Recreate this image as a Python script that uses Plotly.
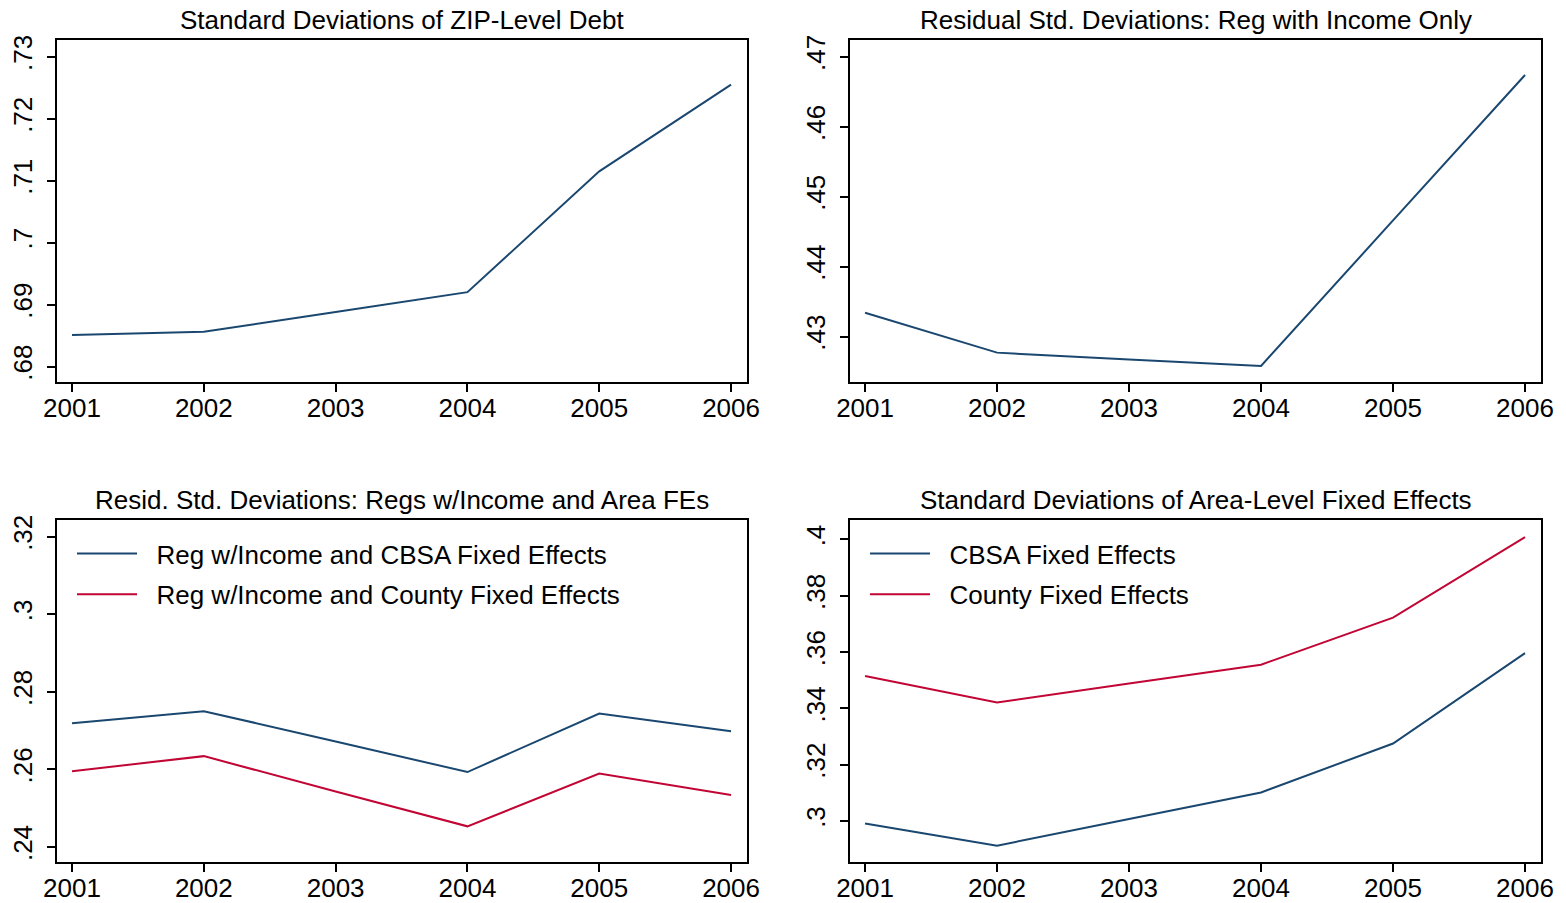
import plotly.graph_objects as go

# Years on the horizontal axis of every panel
years = [2001, 2002, 2003, 2004, 2005, 2006]

# Panel 1: standard deviation of ZIP-level debt
sd_zip_debt = [0.6851, 0.6856, 0.6888, 0.6920, 0.7115, 0.7255]

# Panel 2: residual std. deviation, regression with income only
resid_income_only = [0.4334, 0.4277, 0.4267, 0.4258, 0.4466, 0.4674]

# Panel 3: residual std. deviations with area fixed effects
resid_cbsa_fe = [0.2719, 0.2750, 0.2672, 0.2593, 0.2744, 0.2698]
resid_county_fe = [0.2595, 0.2634, 0.2543, 0.2453, 0.2589, 0.2534]

# Panel 4: std. deviations of the area-level fixed effects
sd_cbsa_fe = [0.2991, 0.2912, 0.3007, 0.3101, 0.3275, 0.3596]
sd_county_fe = [0.3515, 0.3421, 0.3488, 0.3555, 0.3722, 0.4008]

titles = [
    "Standard Deviations of ZIP-Level Debt",
    "Residual Std. Deviations: Reg with Income Only",
    "Resid. Std. Deviations: Regs w/Income and Area FEs",
    "Standard Deviations of Area-Level Fixed Effects",
]

y1_ticks = [0.68, 0.69, 0.70, 0.71, 0.72, 0.73]
y1_labels = [".68", ".69", ".7", ".71", ".72", ".73"]
y2_ticks = [0.43, 0.44, 0.45, 0.46, 0.47]
y2_labels = [".43", ".44", ".45", ".46", ".47"]
y3_ticks = [0.24, 0.26, 0.28, 0.30, 0.32]
y3_labels = [".24", ".26", ".28", ".3", ".32"]
y4_ticks = [0.30, 0.32, 0.34, 0.36, 0.38, 0.40]
y4_labels = [".3", ".32", ".34", ".36", ".38", ".4"]

NAVY = "#1a476f"
CRANBERRY = "#c10534"
FONT = "Liberation Sans, Arial, sans-serif"
FS = 26
GAP = "\u00a0\u00a0"  # extra space between legend key and its text

W, H = 1566, 903

# plot boxes in pixels: (left, right, top, bottom)
boxes = [(57, 747, 40, 382), (850, 1541, 40, 382),
         (57, 747, 520, 862), (850, 1541, 520, 862)]


def xdom(b):
    return [b[0] / W, b[1] / W]


def ydom(b):
    return [1 - b[3] / H, 1 - b[2] / H]


fig = go.Figure()

fig.add_trace(go.Scatter(x=years, y=sd_zip_debt, mode="lines",
                         line=dict(color=NAVY, width=2),
                         xaxis="x", yaxis="y", showlegend=False))
fig.add_trace(go.Scatter(x=years, y=resid_income_only, mode="lines",
                         line=dict(color=NAVY, width=2),
                         xaxis="x2", yaxis="y2", showlegend=False))
fig.add_trace(go.Scatter(x=years, y=resid_cbsa_fe, mode="lines",
                         name=GAP + "Reg w/Income and CBSA Fixed Effects",
                         line=dict(color=NAVY, width=2), legendgroup="a",
                         xaxis="x3", yaxis="y3", legend="legend"))
fig.add_trace(go.Scatter(x=years, y=resid_county_fe, mode="lines",
                         name=GAP + "Reg w/Income and County Fixed Effects",
                         line=dict(color=CRANBERRY, width=2), legendgroup="b",
                         xaxis="x3", yaxis="y3", legend="legend"))
fig.add_trace(go.Scatter(x=years, y=sd_cbsa_fe, mode="lines",
                         name=GAP + "CBSA Fixed Effects",
                         line=dict(color=NAVY, width=2), legendgroup="c",
                         xaxis="x4", yaxis="y4", legend="legend2"))
fig.add_trace(go.Scatter(x=years, y=sd_county_fe, mode="lines",
                         name=GAP + "County Fixed Effects",
                         line=dict(color=CRANBERRY, width=2), legendgroup="d",
                         xaxis="x4", yaxis="y4", legend="legend2"))

yranges = [[0.6775, 0.7327], [0.4235, 0.4724], [0.2361, 0.3243], [0.2854, 0.4069]]
yticks = [(y1_ticks, y1_labels), (y2_ticks, y2_labels),
          (y3_ticks, y3_labels), (y4_ticks, y4_labels)]

axis_common = dict(showline=True, linecolor="black", linewidth=1.5, mirror=True,
                   ticks="outside", ticklen=8, tickwidth=1.5, tickcolor="black",
                   showgrid=False, zeroline=False, automargin=False,
                   tickfont=dict(family=FONT, size=FS, color="black"))

layout = {}
for i, b in enumerate(boxes):
    sfx = "" if i == 0 else str(i + 1)
    layout["xaxis" + sfx] = dict(axis_common, domain=xdom(b), anchor="y" + sfx,
                                 range=[2000.886, 2006.121], ticklabelstandoff=-6,
                                 tickvals=years, ticktext=[str(y) for y in years])
    layout["yaxis" + sfx] = dict(axis_common, domain=ydom(b), anchor="x" + sfx,
                                 range=yranges[i], tickvals=yticks[i][0],
                                 ticktext=yticks[i][1], tickangle=-90,
                                 ticklabelstandoff=5)

annotations = []
for i, b in enumerate(boxes):
    annotations.append(dict(text=titles[i], x=(b[0] + b[1]) / 2 / W,
                            y=1 - (b[2] - 20) / H, xref="paper", yref="paper",
                            xanchor="center", yanchor="middle", showarrow=False,
                            font=dict(family=FONT, size=FS, color="black")))

legend_common = dict(bgcolor="rgba(0,0,0,0)", borderwidth=0,
                     font=dict(family=FONT, size=FS, color="black"),
                     xanchor="left", yanchor="top", itemwidth=60,
                     tracegroupgap=4)

fig.update_layout(
    width=W, height=H,
    margin=dict(l=0, r=0, t=0, b=0),
    paper_bgcolor="white", plot_bgcolor="white",
    annotations=annotations,
    legend=dict(legend_common, x=(boxes[2][0] + 15) / W, y=1 - (boxes[2][2] + 10) / H),
    legend2=dict(legend_common, x=(boxes[3][0] + 15) / W, y=1 - (boxes[3][2] + 10) / H),
    **layout,
)

fig.write_html("out.html")
